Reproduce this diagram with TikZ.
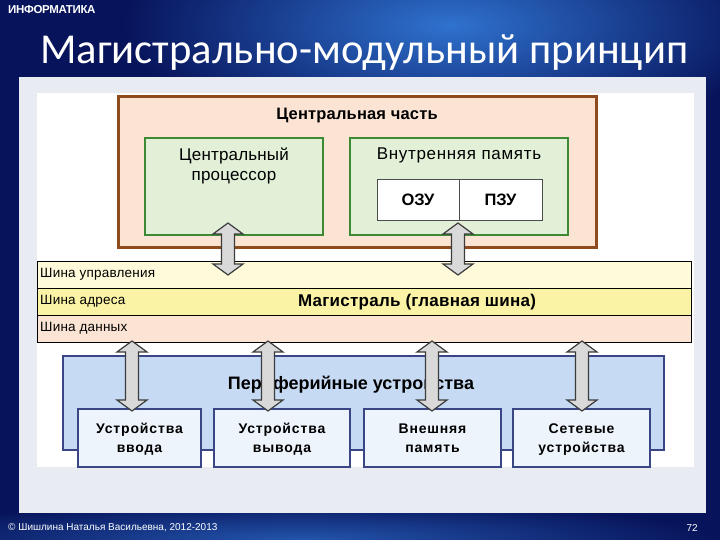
\documentclass[tikz,border=0pt]{standalone}
\usepackage{fontspec}
\setmainfont{Liberation Sans}
\newfontfamily\titlefont{Carlito}
\usetikzlibrary{calc}
\definecolor{bgdark}{HTML}{07135A}
\definecolor{bglight}{HTML}{2F72CF}
\definecolor{panelc}{HTML}{E8EBF2}
\definecolor{orfill}{HTML}{FCE4D4}
\definecolor{orline}{HTML}{8E4B1E}
\definecolor{grfill}{HTML}{E2F0D8}
\definecolor{grline}{HTML}{3D8A35}
\definecolor{busA}{HTML}{FFFBDA}
\definecolor{busB}{HTML}{FAF3A6}
\definecolor{busC}{HTML}{FCE4D4}
\definecolor{blfill}{HTML}{C6DAF3}
\definecolor{blline}{HTML}{3A4585}
\definecolor{subfill}{HTML}{EEF4FB}
\definecolor{arrfill}{HTML}{D9D9D9}
\definecolor{arrline}{HTML}{3C3C3C}
\tikzset{
  box/.style={rectangle, inner sep=0pt, outer sep=0pt},
  orbox/.style={box, fill=orfill, draw=orline, line width=3pt},
  grbox/.style={box, fill=grfill, draw=grline, line width=1.6pt},
  membox/.style={box, fill=white, draw=black!70, line width=0.7pt, font=\bfseries\fontsize{16.5}{18}\selectfont},
  busrow/.style={box, draw=black, line width=0.7pt, minimum width=654pt, minimum height=27pt},
  buslbl/.style={anchor=west, inner sep=0pt, font=\fontsize{13.5}{15}\selectfont\addfontfeatures{LetterSpace=1.5}},
  blbox/.style={box, fill=blfill, draw=blline, line width=2.6pt},
  subbox/.style={box, fill=subfill, draw=blline, line width=1.6pt, minimum height=58pt,
     font=\bfseries\fontsize{14}{18.5}\selectfont\addfontfeatures{LetterSpace=6}, align=center, text depth=0pt},
  arrow2/.style={fill=arrfill, draw=arrline, line width=1.2pt, line join=miter},
}
\newcommand\dblarrow[2]{%
  \draw[arrow2] let \p1=(#1), \p2=(#2) in
    (\x1,\y1) -- (\x1+15pt,\y1-11pt) -- (\x1+6.5pt,\y1-11pt) -- (\x1+6.5pt,\y2+11pt)
    -- (\x1+15pt,\y2+11pt) -- (\x1,\y2) -- (\x1-15pt,\y2+11pt) -- (\x1-6.5pt,\y2+11pt)
    -- (\x1-6.5pt,\y1-11pt) -- (\x1-15pt,\y1-11pt) -- cycle;}
\begin{document}
\begin{tikzpicture}[x=1pt,y=-1pt]
\useasboundingbox (0,0) rectangle (720,540);
% background
\fill[bgdark] (0,0) rectangle (720,540);
\begin{scope}
\clip (0,0) rectangle (720,540);
\shade[inner color=bglight, outer color=bgdark] (450,25) ellipse (330 and 120);
\shade[inner color=bglight!70!bgdark, outer color=bgdark] (300,540) ellipse (420 and 40);
\end{scope}
\fill[panelc] (19,77) rectangle (706,513);
\fill[white] (37,93) rectangle (694,467);
% header/footer
\node[anchor=west, inner sep=0pt, text=white, font=\bfseries\fontsize{11.5}{13}\selectfont\addfontfeatures{LetterSpace=-3}] (subj) at (8,10) {ИНФОРМАТИКА};
\node[anchor=west, inner sep=0pt, text=white] (title) at (40,53) {\resizebox{648pt}{!}{\titlefont\fontsize{46}{50}\selectfont Магистрально-модульный принцип}};
\node[anchor=west, inner sep=0pt, text=white, font=\fontsize{10}{12}\selectfont] (foot) at (8,528) {© Шишлина Наталья Васильевна, 2012-2013};
\node[anchor=east, inner sep=0pt, text=white, font=\fontsize{10}{12}\selectfont] (page) at (698,528) {72};
% central part
\node[orbox, minimum width=478pt, minimum height=150pt] (central) at (357,172) {};
\node[inner sep=0pt, font=\bfseries\fontsize{16.5}{18}\selectfont\addfontfeatures{LetterSpace=1}] (centralt) at (357,116) {Центральная часть};
\node[grbox, minimum width=178pt, minimum height=97pt] (cpu) at (234,186.5) {};
\node[inner sep=0pt, align=center, anchor=north, font=\fontsize{17}{19.5}\selectfont\addfontfeatures{LetterSpace=1}] (cput) at (234,148) {Центральный\\процессор};
\node[grbox, minimum width=218pt, minimum height=97pt] (mem) at (459,186.5) {};
\node[inner sep=0pt, anchor=north, font=\fontsize{17}{19}\selectfont\addfontfeatures{LetterSpace=4}] (memt) at (459,148) {Внутренняя память};
\node[membox, minimum width=82pt, minimum height=41pt] (ozu) at (418,199.5) {ОЗУ};
\node[membox, minimum width=83pt, minimum height=41pt] (pzu) at (500.5,199.5) {ПЗУ};
% bus
\node[busrow, fill=busA] (bus1) at (364,274.5) {};
\node[busrow, fill=busB] (bus2) at (364,301.5) {};
\node[busrow, fill=busC] (bus3) at (364,328.5) {};
\node[buslbl] (bus1t) at (40,274) {Шина управления};
\node[buslbl] (bus2t) at (40,301) {Шина адреса};
\node[buslbl] (bus3t) at (40,328) {Шина данных};
\node[inner sep=0pt, font=\bfseries\fontsize{17}{19}\selectfont\addfontfeatures{LetterSpace=1.5}] (bust) at (417,302) {Магистраль (главная шина)};
% peripherals
\node[blbox, minimum width=601pt, minimum height=94pt] (peri) at (363.5,403) {};
\node[inner sep=0pt, font=\bfseries\fontsize{18}{20}\selectfont] (perit) at (351,385) {Периферийные устройства};
\node[subbox, minimum width=123pt] (in) at (139.5,438) {Устройства\\ввода};
\node[subbox, minimum width=136pt] (out) at (282,438) {Устройства\\вывода};
\node[subbox, minimum width=137pt] (ext) at (432.5,438) {Внешняя\\память};
\node[subbox, minimum width=137pt] (net) at (581.5,438) {Сетевые\\устройства};
% arrows
\coordinate (a1t) at (228,223); \coordinate (a1b) at (228,275);
\coordinate (a2t) at (458,223); \coordinate (a2b) at (458,275);
\coordinate (b1t) at (132,341); \coordinate (b1b) at (132,411);
\coordinate (b2t) at (268,341); \coordinate (b2b) at (268,411);
\coordinate (b3t) at (432,341); \coordinate (b3b) at (432,411);
\coordinate (b4t) at (582,341); \coordinate (b4b) at (582,411);
\dblarrow{a1t}{a1b}
\dblarrow{a2t}{a2b}
\dblarrow{b1t}{b1b}
\dblarrow{b2t}{b2b}
\dblarrow{b3t}{b3b}
\dblarrow{b4t}{b4b}
\end{tikzpicture}
\end{document}
